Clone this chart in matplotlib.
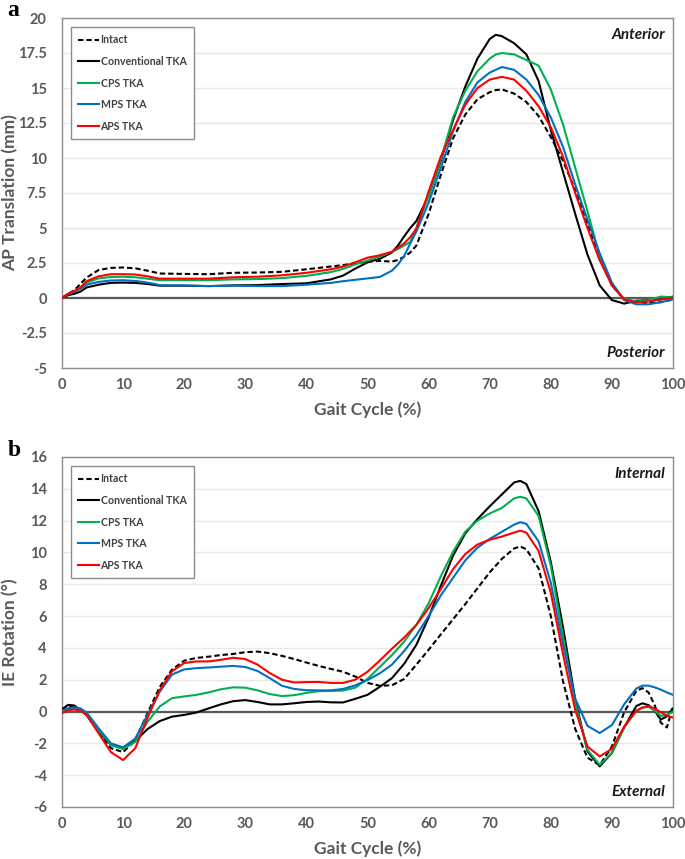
# Knee kinematics over the gait cycle - AP translation (a) and IE rotation (b)
# Intact knee vs conventional / CPS / MPS / APS TKA

import matplotlib
matplotlib.use("Agg")
import matplotlib.pyplot as plt

plt.rcParams['font.family'] = ['Lato', 'DejaVu Sans']

# ---------- DATA ----------
labels = ["Intact", "Conventional TKA", "CPS TKA", "MPS TKA", "APS TKA"]
colors = ["black", "black", "#00b050", "#0070c0", "#ff0000"]

# panel a : AP translation (mm)
gait_a = [0, 1, 2, 3, 4, 6, 8, 10, 12, 14, 16, 20, 24, 28, 32, 36, 40, 44, 46, 48,
          50, 52, 54, 55, 56, 57, 58, 60, 62, 64, 66, 68, 70, 71, 72, 74, 76, 78, 80,
          82, 84, 86, 88, 90, 92, 94, 96, 98, 100]
ap_intact = [0, 0.3, 0.55, 1.0, 1.45, 2.0, 2.15, 2.18, 2.12, 1.95, 1.75, 1.72, 1.7, 1.8,
             1.82, 1.87, 2.05, 2.25, 2.35, 2.48, 2.6, 2.65, 2.6, 2.72, 2.95, 3.25, 3.75,
             6.0, 8.8, 11.4, 13.1, 14.2, 14.7, 14.85, 14.9, 14.6, 14.0, 13.0, 11.5, 9.8,
             7.7, 5.3, 2.9, 0.9, -0.1, -0.3, -0.35, -0.3, -0.1]
ap_conv = [0, 0.2, 0.3, 0.45, 0.75, 0.95, 1.08, 1.1, 1.08, 1.0, 0.88, 0.88, 0.85, 0.9,
           0.92, 1.0, 1.05, 1.33, 1.6, 2.1, 2.55, 2.8, 3.25, 3.76, 4.4, 5.0, 5.5, 7.3,
           9.8, 12.7, 15.1, 17.1, 18.5, 18.8, 18.7, 18.2, 17.4, 15.5, 12.0, 9.0, 6.0,
           3.1, 0.9, -0.15, -0.4, -0.2, -0.15, -0.1, 0.1]
ap_cps = [0, 0.3, 0.45, 0.7, 1.1, 1.4, 1.5, 1.52, 1.48, 1.38, 1.27, 1.27, 1.27, 1.33,
          1.35, 1.42, 1.58, 1.85, 2.08, 2.4, 2.68, 2.95, 3.3, 3.5, 3.75, 4.0, 5.0, 7.3,
          9.9, 12.9, 14.8, 16.2, 17.1, 17.4, 17.5, 17.4, 17.0, 16.6, 14.9, 12.4, 9.3,
          6.2, 3.0, 0.9, -0.05, -0.25, -0.15, 0.1, 0.05]
ap_mps = [0, 0.3, 0.45, 0.65, 0.95, 1.15, 1.25, 1.27, 1.22, 1.1, 0.92, 0.9, 0.85, 0.88,
          0.85, 0.85, 0.95, 1.08, 1.2, 1.3, 1.4, 1.5, 1.95, 2.4, 3.0, 3.9, 4.75, 6.8,
          9.3, 11.9, 14.0, 15.4, 16.1, 16.3, 16.5, 16.3, 15.6, 14.5, 12.9, 10.8, 8.1,
          5.6, 3.2, 1.1, -0.15, -0.45, -0.45, -0.3, -0.1]
ap_aps = [0, 0.3, 0.5, 0.75, 1.2, 1.55, 1.7, 1.7, 1.68, 1.55, 1.38, 1.38, 1.38, 1.48,
          1.52, 1.62, 1.8, 2.05, 2.25, 2.55, 2.88, 3.05, 3.3, 3.6, 3.9, 4.35, 4.95, 7.6,
          10.1, 12.0, 13.8, 15.0, 15.6, 15.7, 15.8, 15.6, 14.8, 13.7, 12.2, 10.1, 7.5,
          5.0, 2.7, 0.9, -0.1, -0.3, -0.25, -0.1, 0.0]

# panel b : IE rotation (deg)
gait_b = [0, 1, 2, 3, 4, 6, 8, 10, 12, 14, 16, 18, 20, 22, 24, 26, 28, 30, 32, 34,
          36, 38, 40, 42, 44, 46, 48, 50, 52, 54, 56, 58, 60, 62, 64, 66, 68, 70, 72,
          74, 75, 76, 78, 80, 82, 84, 86, 88, 90, 92, 94, 95, 96, 97, 98, 99, 100]
ie_intact = [0.05, 0.3, 0.32, 0.1, -0.2, -1.26, -2.3, -2.55, -1.8, -0.1, 1.55, 2.63,
             3.2, 3.37, 3.45, 3.55, 3.62, 3.73, 3.77, 3.67, 3.5, 3.3, 3.08, 2.87, 2.68,
             2.5, 2.2, 1.8, 1.62, 1.65, 2.05, 2.95, 3.88, 4.85, 5.8, 6.75, 7.75, 8.75,
             9.6, 10.25, 10.38, 10.2, 9.0, 6.0, 1.9, -1.1, -2.9, -3.37, -2.2, -0.05,
             1.3, 1.47, 1.2, 0.4, -0.7, -1.0, 0.35]
ie_conv = [0.15, 0.42, 0.38, 0.1, -0.2, -1.26, -2.1, -2.3, -1.85, -1.1, -0.6, -0.32,
           -0.21, -0.06, 0.2, 0.45, 0.65, 0.72, 0.6, 0.45, 0.45, 0.52, 0.6, 0.63, 0.58,
           0.57, 0.8, 1.05, 1.55, 2.1, 3.0, 4.2, 5.9, 7.9, 9.8, 11.2, 12.1, 12.9, 13.65,
           14.4, 14.5, 14.3, 12.6, 9.4, 5.3, 0.75, -2.5, -3.45, -2.6, -1.0, 0.35, 0.52,
           0.4, 0.05, -0.5, -0.3, 0.2]
ie_cps = [0.0, 0.15, 0.2, 0.1, -0.12, -1.16, -2.1, -2.36, -1.9, -0.65, 0.32, 0.84,
          0.95, 1.05, 1.2, 1.4, 1.52, 1.5, 1.33, 1.1, 0.97, 1.03, 1.17, 1.28, 1.3, 1.32,
          1.5, 2.05, 2.8, 3.55, 4.4, 5.45, 6.8, 8.5, 10.05, 11.3, 12.0, 12.45, 12.8,
          13.4, 13.5, 13.4, 12.3, 9.16, 4.7, 0.5, -2.4, -3.35, -2.6, -1.0, 0.05, 0.25,
          0.3, 0.05, -0.28, -0.2, 0.0]
ie_mps = [0.08, 0.2, 0.27, 0.2, -0.05, -1.05, -2.0, -2.25, -1.7, -0.2, 1.25, 2.32,
          2.65, 2.73, 2.77, 2.82, 2.87, 2.8, 2.55, 2.1, 1.62, 1.42, 1.34, 1.33, 1.33,
          1.42, 1.65, 1.98, 2.4, 2.95, 3.8, 4.8, 6.0, 7.3, 8.4, 9.5, 10.3, 10.85, 11.3,
          11.75, 11.9, 11.8, 10.7, 8.1, 4.2, 0.8, -0.9, -1.35, -0.85, 0.45, 1.45, 1.63,
          1.63, 1.52, 1.38, 1.2, 1.05]
ie_aps = [-0.1, 0.08, 0.13, 0.05, -0.2, -1.37, -2.55, -3.05, -2.3, -0.4, 1.35, 2.53,
          3.05, 3.15, 3.15, 3.25, 3.38, 3.3, 2.95, 2.42, 2.0, 1.83, 1.85, 1.86, 1.8, 1.8,
          2.0, 2.5, 3.2, 3.95, 4.65, 5.45, 6.5, 7.7, 8.95, 9.9, 10.5, 10.8, 11.0, 11.25,
          11.37, 11.25, 10.1, 7.47, 3.6, 0.1, -2.2, -2.82, -2.35, -0.95, 0.05, 0.25,
          0.32, 0.2, -0.05, -0.25, -0.38]

xticks = list(range(0, 101, 10))
yticks_a = [-5, -2.5, 0, 2.5, 5, 7.5, 10, 12.5, 15, 17.5, 20]
ytick_labels_a = ["-5", "-2.5", "0", "2.5", "5", "7.5", "10", "12.5", "15", "17.5", "20"]
yticks_b = list(range(-6, 17, 2))
# ------------------------------------------------

GRAY = "#595959"


def draw_panel(ax, x, series, yticks, yticklabels, ylabel, top_note, bottom_note, letter):
    """ one Excel-style panel """
    for i, (y, lab) in enumerate(zip(series, labels)):
        ls = (0, (2.6, 1.4)) if lab == "Intact" else "-"
        ax.plot(x, y, color=colors[i], lw=1.5, ls=ls, label=lab, zorder=3)

    ax.axhline(0, color=GRAY, lw=1.6, zorder=2)
    ax.set_xlim(0, 100)
    ax.set_ylim(yticks[0], yticks[-1])
    ax.set_xticks(xticks)
    ax.set_yticks(yticks)
    ax.set_yticklabels(yticklabels)
    ax.grid(axis="y", color="#e8e8e8", lw=1, zorder=0)
    ax.tick_params(length=0, labelsize=10.5, labelcolor=GRAY)
    ax.tick_params(axis="y", pad=11)
    ax.tick_params(axis="x", pad=7)
    for t in ax.get_xticklabels() + ax.get_yticklabels():
        t.set_fontweight("bold")
    for sp in ax.spines.values():
        sp.set_color("#8c8c8c")
        sp.set_linewidth(1)

    ax.set_xlabel("Gait Cycle (%)", fontsize=12.5, fontweight="bold", color=GRAY)
    ax.set_ylabel(ylabel, fontsize=12.5, fontweight="bold", color=GRAY)
    ax.xaxis.set_label_coords(0.5, -0.095)
    ax.yaxis.set_label_coords(-0.072, 0.5)

    ax.text(0.987, 0.951, top_note, transform=ax.transAxes, ha="right", va="center",
            fontsize=11, fontweight="bold", fontstyle="italic", color="#1a1a1a")
    ax.text(0.987, 0.043, bottom_note, transform=ax.transAxes, ha="right", va="center",
            fontsize=11, fontweight="bold", fontstyle="italic", color="#1a1a1a")

    leg = ax.legend(loc="upper left", bbox_to_anchor=(0.0147, 0.974), borderaxespad=0,
                    fancybox=False, framealpha=1, edgecolor="#8c8c8c",
                    prop={"size": 7.6, "weight": "bold"}, handlelength=2.0,
                    handletextpad=0.1, labelspacing=1.0, borderpad=0.7)
    leg.get_frame().set_linewidth(1)
    for t in leg.get_texts():
        t.set_color("#404040")

    ax.text(-0.089, 1.02, letter, transform=ax.transAxes, ha="left", va="center",
            fontsize=17, fontweight="bold", family="Liberation Serif")


fig = plt.figure(figsize=(6.85, 8.59), dpi=100)
ax_a = fig.add_axes([62 / 685, 1 - 368 / 859, 611 / 685, 350 / 859])
ax_b = fig.add_axes([62 / 685, 1 - 807 / 859, 611 / 685, 350 / 859])

draw_panel(ax_a, gait_a, [ap_intact, ap_conv, ap_cps, ap_mps, ap_aps],
           yticks_a, ytick_labels_a, "AP Translation (mm)", "Anterior", "Posterior", "a")
draw_panel(ax_b, gait_b, [ie_intact, ie_conv, ie_cps, ie_mps, ie_aps],
           yticks_b, [str(v) for v in yticks_b], "IE Rotation (°)", "Internal", "External", "b")

fig.savefig("out.png", dpi=100)
